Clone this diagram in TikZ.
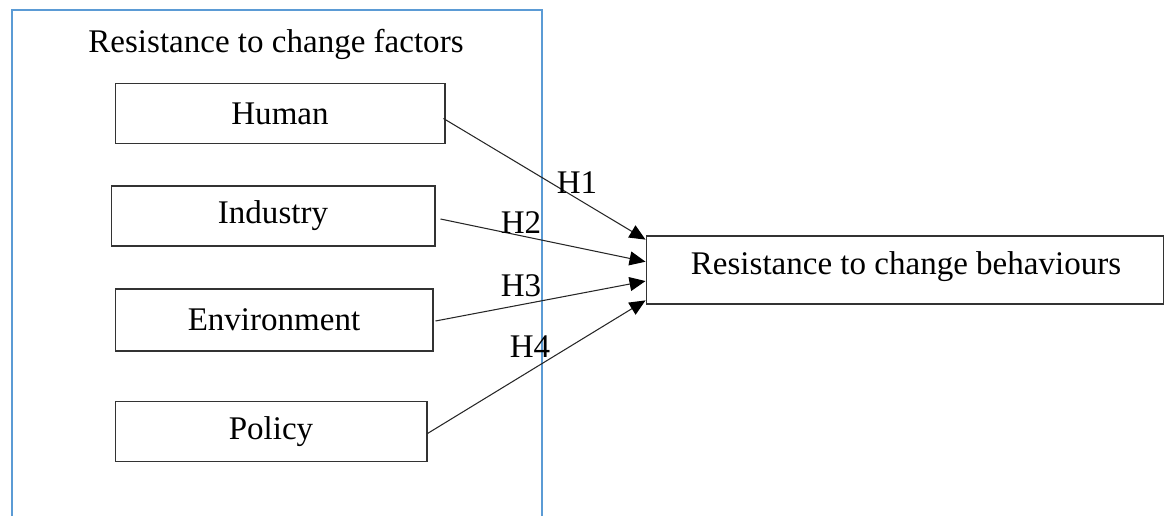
\documentclass[tikz,border=0pt]{standalone}
\usepackage{fontspec}
\setmainfont{Liberation Serif}
\usetikzlibrary{arrows.meta,calc}

\definecolor{cadrebleu}{RGB}{91,155,213}

\tikzset{
    facteur/.style={draw=black!80, line width=0.6pt, inner sep=0pt, minimum height=1.2cm},
    fleche/.style={draw=black!85, line width=0.6pt, -{Triangle[length=0.32cm,width=0.28cm,color=black]}},
    etiq/.style={inner sep=1pt}
}

\begin{document}
\begin{tikzpicture}[x=0.02cm,y=-0.02cm,every node/.style={font=\fontsize{18.8}{22}\selectfont}]

\useasboundingbox (0,0) rectangle (1165,516);

%%%%%%%%%%%%%%%%%%%%%%%%
%Cadre des facteurs
%%%%%%%%%%%%%%%%%%%%%%%%
    \draw[color=cadrebleu, line width=1.1pt] (12,516)--(12,10)--(542,10)--(542,516);
    \node (titre) at (276,44) {Resistance to change factors};

    % facteurs
    \node[facteur, minimum width=6.6cm] (human) at (280,113.5) {Human};
    \node[facteur, minimum width=6.48cm] (industry) at (273,216) {Industry};
    \node[facteur, minimum width=6.36cm, minimum height=1.24cm] (environment) at (274,320) {Environment};
    \node[facteur, minimum width=6.24cm] (policy) at (271,431.5) {Policy};

%%%%%%%%%%%%%%%%%%%%%%%%
%Comportements
%%%%%%%%%%%%%%%%%%%%%%%%
    \node[facteur, minimum width=10.36cm, minimum height=1.36cm] (behaviours) at (905,270) {};
    \node (behtext) at (906,267) {Resistance to change behaviours};

    % points d'arrivee sur le bord gauche
    \coordinate (b1) at ($(behaviours.north west)!0.06!(behaviours.south west)$);
    \coordinate (b2) at ($(behaviours.north west)!0.38!(behaviours.south west)$);
    \coordinate (b3) at ($(behaviours.north west)!0.66!(behaviours.south west)$);
    \coordinate (b4) at ($(behaviours.north west)!0.94!(behaviours.south west)$);

    % hypotheses
    \draw[fleche] ([shift={(-2,5)}]human.east) -- (b1);
    \draw[fleche] ([shift={(5,3)}]industry.east) -- (b2);
    \draw[fleche] ([shift={(2,1)}]environment.east) -- (b3);
    \draw[fleche] ([shift={(0,2)}]policy.east) -- (b4);

    \node[etiq] (h1) at (577,183) {H1};
    \node[etiq] (h2) at (521,223) {H2};
    \node[etiq] (h3) at (521,286) {H3};
    \node[etiq] (h4) at (530,347) {H4};

\end{tikzpicture}
\end{document}
